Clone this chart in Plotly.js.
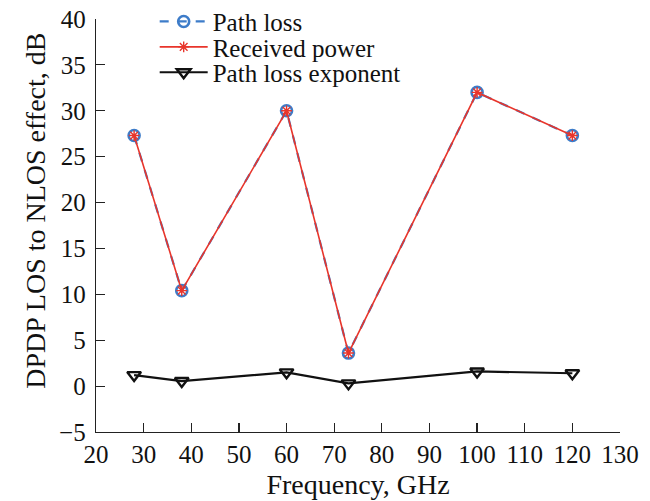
<!DOCTYPE html>
<html>
<head>
<meta charset="utf-8">
<script src="https://cdn.plot.ly/plotly-3.0.1.min.js"></script>
<style>
  html, body { margin: 0; padding: 0; background: #fff; }
  #chart { width: 650px; height: 501px; }
</style>
</head>
<body>
<div id="chart"></div>
<script>
// Frequencies measured (GHz)
const frequencyGHz = [28, 38, 60, 73, 100, 120];

// DPDP LOS-to-NLOS effect per metric (dB)
const pathLoss         = [27.3, 10.4, 30.0, 3.6, 32.0, 27.3];
const receivedPower    = [27.3, 10.4, 30.0, 3.6, 32.0, 27.3];
const pathLossExponent = [1.2, 0.55, 1.5, 0.3, 1.6, 1.4];

const seriesNames = ["Path loss", "Received power", "Path loss exponent"];

const serif = "Liberation Serif, Times New Roman, serif";

const traces = [
  {
    x: frequencyGHz, y: pathLoss, name: seriesNames[0], legend: "legend",
    type: "scatter", mode: "lines+markers",
    line: { color: "#3D7CC9", width: 2.2, dash: "dash" },
    marker: { symbol: "circle-open", size: 11, color: "#3D7CC9", line: { width: 2.6, color: "#3D7CC9" } }
  },
  {
    x: frequencyGHz, y: receivedPower, name: seriesNames[1], legend: "legend2",
    type: "scatter", mode: "lines+markers",
    line: { color: "#E8352B", width: 1.6 },
    marker: { symbol: "asterisk-open", size: 9, color: "#E8352B", line: { width: 1.4, color: "#E8352B" } }
  },
  {
    x: frequencyGHz, y: pathLossExponent, name: seriesNames[2], legend: "legend3",
    type: "scatter", mode: "lines+markers",
    line: { color: "#111111", width: 2.2 },
    marker: { symbol: "triangle-down-open", size: 12, color: "#111111", line: { width: 2.4, color: "#111111" } }
  }
];

const axisCommon = {
  showline: true, linecolor: "#222", linewidth: 1.3,
  ticks: "inside", ticklen: 9, tickwidth: 1.2, tickcolor: "#222",
  showgrid: false, zeroline: false, mirror: false,
  tickfont: { family: serif, size: 25, color: "#111" }
};

// one legend box per series so the rows sit tightly stacked
function legendAt(yCenter) {
  return {
    x: 0.112, y: yCenter, xanchor: "left", yanchor: "middle",
    bgcolor: "rgba(0,0,0,0)", borderwidth: 0, itemwidth: 48,
    font: { family: serif, size: 25, color: "#111" }
  };
}

const layout = {
  width: 650, height: 501,
  margin: { l: 96, r: 30, t: 19, b: 69, autoexpand: false },
  paper_bgcolor: "#fff", plot_bgcolor: "#fff",
  font: { family: serif, color: "#111" },
  xaxis: Object.assign({}, axisCommon, {
    range: [20, 130], dtick: 10, tick0: 20, ticklabelstandoff: 0,
    title: { text: "Frequency, GHz", font: { family: serif, size: 28, color: "#111" }, standoff: 7 }
  }),
  yaxis: Object.assign({}, axisCommon, {
    range: [-5, 40], dtick: 5, tick0: -5, ticklabelstandoff: 4
  }),
  annotations: [{
    text: "DPDP LOS to NLOS effect, dB", textangle: -90,
    xref: "paper", yref: "paper", x: -0.117, y: 0.535,
    xanchor: "center", yanchor: "middle", showarrow: false,
    font: { family: serif, size: 28, color: "#111" }
  }],
  legend: legendAt(0.9935),
  legend2: legendAt(0.932),
  legend3: legendAt(0.8705),
  showlegend: true
};

Plotly.newPlot("chart", traces, layout, { displayModeBar: false, staticPlot: true });
</script>
</body>
</html>
